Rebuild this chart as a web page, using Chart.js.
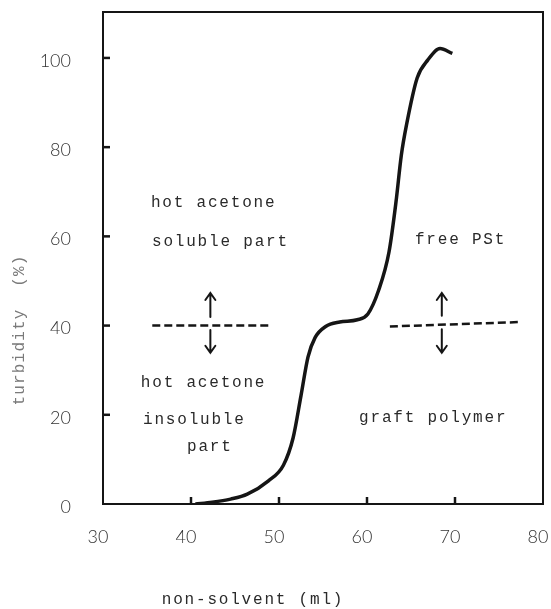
<!DOCTYPE html>
<html>
<head>
<meta charset="utf-8">
<script src="https://cdn.jsdelivr.net/npm/chart.js@4.4.1/dist/chart.umd.min.js"></script>
<style>
  html, body { margin: 0; padding: 0; background: #fff; }
</style>
</head>
<body>
<canvas id="myChart" width="551" height="609"></canvas>
<script>
// turbidity titration curve
const solventMl = [40.5, 42.4, 44.5, 46.4, 48.8, 50.5, 51.6, 52.5, 53.3, 54.1, 55.3, 56.9, 58.9, 60.1, 61.3, 62.5, 63.3, 63.9, 64.5, 65.7, 66.9, 68.3, 69.7];
const turbidity = [0, 0.4, 1.1, 2.2, 5.2, 8.7, 14.8, 24.3, 33.0, 37.3, 39.8, 40.8, 41.3, 42.6, 47.8, 56.5, 67.8, 78.2, 85.1, 95.5, 99.5, 102.1, 101.0];

const xTicks = [30, 40, 50, 60, 70, 80];
const yTicks = [0, 20, 40, 60, 80, 100];

// fraction boundaries (dashed)
const leftCutX = [35.6, 49.2];
const leftCutY = [40, 40];
const rightCutX = [62.6, 77.5];
const rightCutY = [39.8, 40.8];

// arrows: x, tail, head
const arrowX = [42.2, 42.2, 68.5, 68.5];
const arrowFrom = [41.9, 39.0, 42.2, 39.2];
const arrowTo = [47.3, 33.9, 47.3, 33.9];

const noteText = ['hot acetone', 'soluble part', 'hot acetone', 'insoluble', 'part', 'free PSt', 'graft polymer'];
const noteX = [35.45, 35.57, 34.3, 34.55, 39.55, 65.45, 59.1];
const noteY = [67.5, 58.7, 27.1, 18.8, 12.8, 59.2, 19.3];

const monoFont = '"Liberation Mono", "DejaVu Sans Mono", monospace';
const ink = '#151515';

const toPoints = (xs, ys) => xs.map((x, i) => ({ x: x, y: ys[i] }));

// fixed axis boxes, no extra label padding
const fixBox = (w, h) => scale => {
  if (w) scale.width = w;
  if (h) scale.height = h;
  scale.paddingLeft = scale.paddingRight = scale.paddingTop = scale.paddingBottom = 0;
};

const frameAndNotes = {
  id: 'frameAndNotes',
  afterDraw(chart) {
    const { ctx, chartArea: area, scales } = chart;
    const xs = scales.x, ys = scales.y;
    ctx.save();

    // frame
    ctx.strokeStyle = ink;
    ctx.lineWidth = 2;
    ctx.strokeRect(area.left, area.top, area.right - area.left, area.bottom - area.top);

    // inward tick marks
    ctx.lineWidth = 2.5;
    xTicks.slice(1, -1).forEach(v => {
      const px = xs.getPixelForValue(v);
      ctx.beginPath();
      ctx.moveTo(px, area.bottom);
      ctx.lineTo(px, area.bottom - 7);
      ctx.stroke();
    });
    yTicks.slice(1).forEach(v => {
      const py = ys.getPixelForValue(v);
      ctx.beginPath();
      ctx.moveTo(area.left, py);
      ctx.lineTo(area.left + 7, py);
      ctx.stroke();
    });

    // arrows
    ctx.lineWidth = 2;
    ctx.lineCap = 'round';
    arrowX.forEach((x, i) => {
      const px = xs.getPixelForValue(x);
      const y0 = ys.getPixelForValue(arrowFrom[i]);
      const y1 = ys.getPixelForValue(arrowTo[i]);
      const dir = y1 < y0 ? 1 : -1;
      ctx.beginPath();
      ctx.moveTo(px, y0);
      ctx.lineTo(px, y1);
      ctx.moveTo(px - 5, y1 + dir * 7);
      ctx.lineTo(px, y1);
      ctx.lineTo(px + 5, y1 + dir * 7);
      ctx.stroke();
    });

    // notes
    ctx.fillStyle = '#2a2a2a';
    ctx.font = '16px ' + monoFont;
    ctx.textAlign = 'left';
    ctx.textBaseline = 'middle';
    if ('letterSpacing' in ctx) ctx.letterSpacing = '1.8px';
    noteText.forEach((t, i) => {
      ctx.fillText(t, xs.getPixelForValue(noteX[i]), ys.getPixelForValue(noteY[i]));
    });

    // axis titles
    ctx.textAlign = 'center';
    ctx.fillStyle = '#2a2a2a';
    ctx.fillText('non-solvent (ml)', 253, 600);

    ctx.fillStyle = '#7a7a7a';
    if ('letterSpacing' in ctx) ctx.letterSpacing = '1.2px';
    ctx.translate(20, 330);
    ctx.rotate(-Math.PI / 2);
    ctx.fillText('turbidity  (%)', 0, 0);

    ctx.restore();
  }
};

const ctx = document.getElementById('myChart');

const turbidityChart = new Chart(ctx, {
  type: 'line',
  data: {
    datasets: [{
      label: 'turbidity',
      data: toPoints(solventMl, turbidity),
      borderColor: ink,
      borderWidth: 3.5,
      pointRadius: 0,
      cubicInterpolationMode: 'monotone',
      fill: false
    }, {
      label: 'left boundary',
      data: toPoints(leftCutX, leftCutY),
      borderColor: ink,
      borderWidth: 2.5,
      borderDash: [8, 4],
      pointRadius: 0
    }, {
      label: 'right boundary',
      data: toPoints(rightCutX, rightCutY),
      borderColor: ink,
      borderWidth: 2.5,
      borderDash: [8, 4],
      pointRadius: 0
    }]
  },
  options: {
    responsive: false,
    animation: false,
    layout: { padding: { top: 12, right: 8, left: 0, bottom: 0 } },
    plugins: {
      legend: { display: false },
      tooltip: { enabled: false }
    },
    scales: {
      x: {
        type: 'linear',
        min: 30,
        max: 80,
        grid: { display: false, drawTicks: false },
        border: { display: false },
        afterBuildTicks: scale => { scale.ticks = xTicks.map(v => ({ value: v })); },
        afterFit: fixBox(0, 105),
        ticks: {
          padding: 22,
          labelOffset: -5,
          maxRotation: 0,
          color: '#333',
          font: { family: 'Lato, "Liberation Sans", sans-serif', size: 18, weight: '300' }
        }
      },
      y: {
        type: 'linear',
        min: 0,
        max: 110.3,
        grid: { display: false, drawTicks: false },
        border: { display: false },
        afterBuildTicks: scale => { scale.ticks = yTicks.map(v => ({ value: v })); },
        afterFit: fixBox(103, 0),
        ticks: {
          padding: 32,
          labelOffset: 3,
          color: '#333',
          font: { family: 'Lato, "Liberation Sans", sans-serif', size: 18, weight: '300' }
        }
      }
    }
  },
  plugins: [frameAndNotes]
});
</script>
</body>
</html>
